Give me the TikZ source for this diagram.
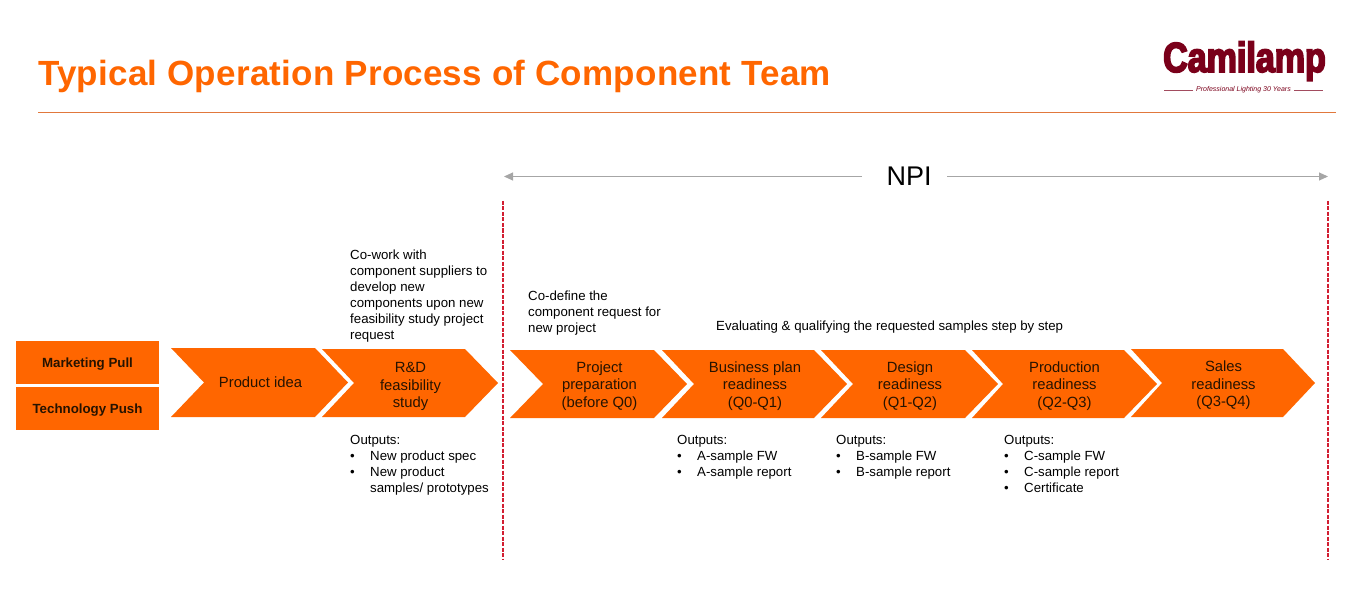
\documentclass[tikz,border=0pt]{standalone}
\usepackage{fontspec}
\setmainfont{Liberation Sans}
\newfontfamily\logofont[FakeStretch=0.81,FakeBold=4]{Liberation Sans Bold}
\newfontfamily\titlefont[LetterSpace=0.65]{Liberation Sans Bold}
\usetikzlibrary{arrows.meta}
\definecolor{campOrange}{RGB}{255,102,0}
\definecolor{campRed}{RGB}{122,0,26}
\definecolor{campRule}{RGB}{225,120,60}
\definecolor{campGate}{RGB}{210,30,50}
\newcommand{\itm}{\makebox[20pt][l]{•}}
\tikzset{
    stage/.style={align=center, font=\fontsize{14.8}{17.6}\selectfont, text=black!85!orange},
    source/.style={fill=campOrange, minimum width=143pt, minimum height=43pt, inner sep=0pt, text height=10pt, text depth=0pt, font=\fontsize{13.3}{15}\selectfont\bfseries, text=black!85!orange},
    note/.style={align=left, anchor=north west, inner sep=0pt, font=\fontsize{13.25}{16}\selectfont},
    npiarrow/.style={draw=black!35, line width=1pt, -{Triangle[length=9pt,width=8pt]}},
    gate/.style={draw=campGate, line width=1.2pt, dash pattern=on 4pt off 1.5pt}
}
\begin{document}
\begin{tikzpicture}[x=1pt, y=-1pt]
    \useasboundingbox (0,0) rectangle (1357,596);

    % Title and logo
    \node[anchor=west, inner sep=0pt, text=campOrange, font=\fontsize{35}{40}\selectfont\titlefont] (title) at (38,76.5) {Typical Operation Process of Component Team};
    \draw[campRule, line width=0.8pt] (38,112.5) -- (1336,112.5);
    \node[anchor=base, inner sep=0pt, text=campRed, font=\fontsize{42}{44}\selectfont\logofont] (logo) at (1244.5,72) {Camilamp};
    \node[inner sep=0pt, text=campRed, font=\fontsize{7}{8}\selectfont\itshape] (motto) at (1243.5,90) {Professional Lighting 30 Years};
    \draw[campRed!70, line width=0.5pt] (motto.west) ++(-3,0) -- (1164,90);
    \draw[campRed!70, line width=0.5pt] (motto.east) ++(3,0) -- (1323,90);

    % NPI span
    \node[font=\fontsize{27}{30}\selectfont, inner sep=0pt] (npi) at (909,176) {NPI};
    \coordinate (npiL) at (504,176.5);
    \coordinate (npiR) at (1328,176.5);
    \draw[npiarrow] (862,176.5) -- (npiL);
    \draw[npiarrow] (947,176.5) -- (npiR);
    \draw[gate] (503,201) -- (503,560);
    \draw[gate] (1328,201) -- (1328,560);

    % Sources
    \node[source] (pull) at (87.5,362.5) {Marketing Pull};
    \node[source] (push) at (87.5,408.5) {Technology Push};

    % Chevrons
    \foreach \l/\n/\r/\t/\yt/\yb/\dy/\name/\lab in {
        171/204/315/348/348/417/0/idea/{Product idea},
        322/354/465/498/349/417/3.5/rnd/{R\&D\\feasibility\\study},
        510/543/654/687/350/418/2/prep/{Project\\preparation\\(before Q0)},
        662/694/814/847/350/418/2/plan/{Business plan\\readiness\\(Q0-Q1)},
        821/853/965/998/350/418/2/design/{Design\\readiness\\(Q1-Q2)},
        972/1003/1124/1157/350/418/2/prod/{Production\\readiness\\(Q2-Q3)},
        1131/1162/1283/1315/349/417/2.5/sales/{Sales\\readiness\\(Q3-Q4)}} {
        \fill[campOrange] (\l,\yt) -- (\r,\yt) -- (\t,{(\yt+\yb)/2}) -- (\r,\yb) -- (\l,\yb) -- (\n,{(\yt+\yb)/2}) -- cycle;
        \node[stage] (\name) at ({(\n+\r)/2+1},{(\yt+\yb)/2+\dy}) {\lab};
    }

    % Notes above
    \node[note] (rndnote) at (350,249.5) {Co-work with\\component suppliers to\\develop new\\components upon new\\feasibility study project\\request};
    \node[note] (prepnote) at (528,290.5) {Co-define the\\component request for\\new project};
    \node[note] (evalnote) at (716,320.5) {Evaluating \& qualifying the requested samples step by step};

    % Outputs below
    \node[note] (rndout) at (350,435.5) {Outputs:\\\itm New product spec\\\itm New product\\\makebox[20pt]{}samples/ prototypes};
    \node[note] (planout) at (677,435.5) {Outputs:\\\itm A-sample FW\\\itm A-sample report};
    \node[note] (designout) at (836,435.5) {Outputs:\\\itm B-sample FW\\\itm B-sample report};
    \node[note] (prodout) at (1004,435.5) {Outputs:\\\itm C-sample FW\\\itm C-sample report\\\itm Certificate};
\end{tikzpicture}
\end{document}
